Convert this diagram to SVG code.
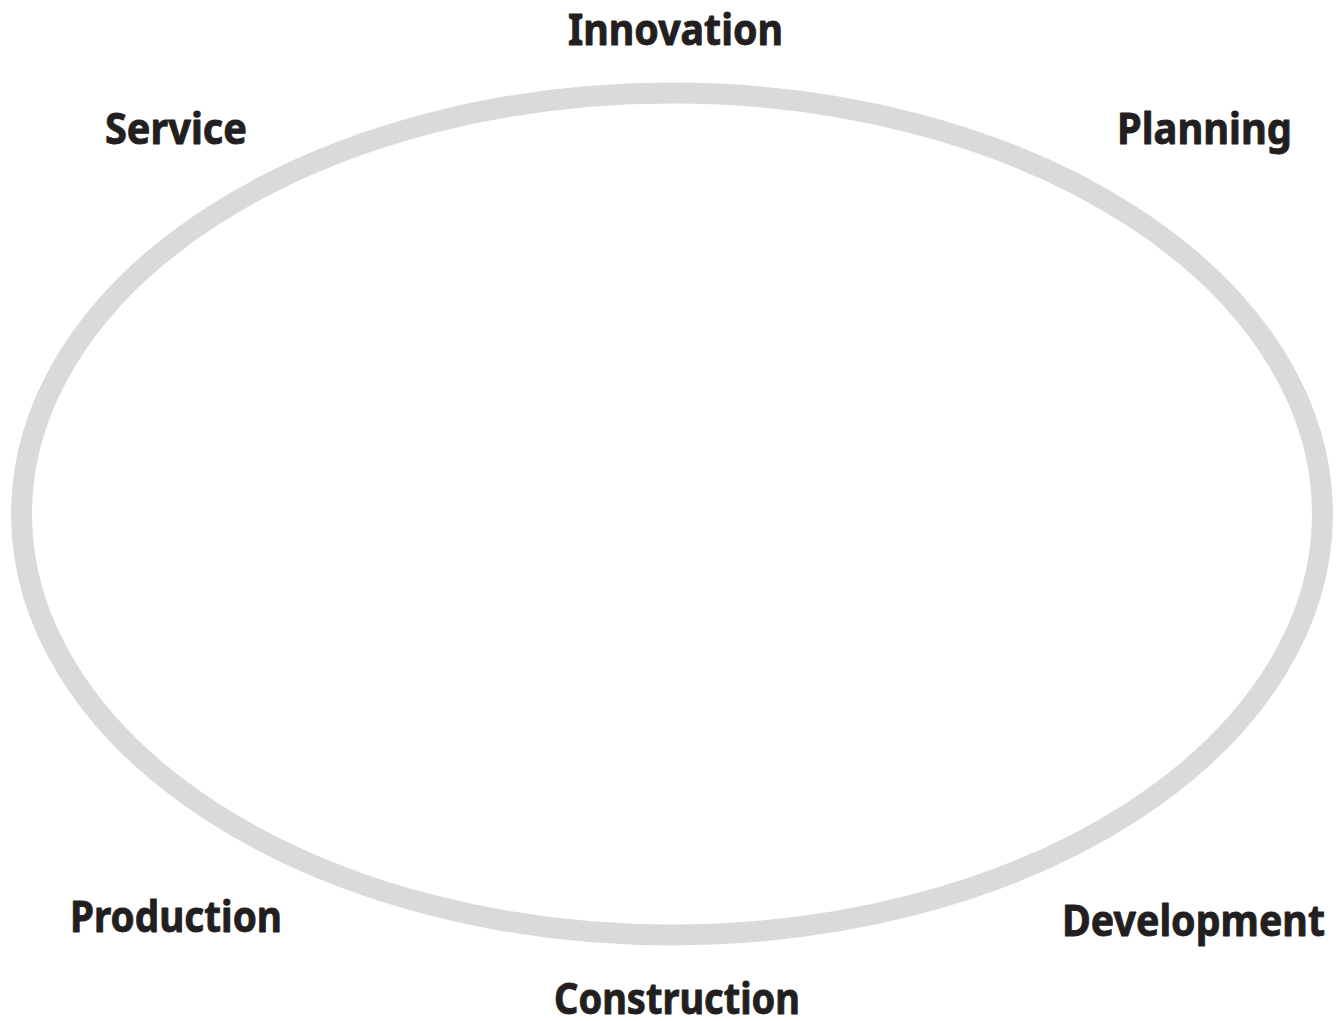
<svg xmlns="http://www.w3.org/2000/svg" width="1340" height="1021" viewBox="0 0 1340 1021">
  <style>
    .ring { fill: none; stroke: #d9dadc; stroke-width: 21; }
    .label { font-family: "Noto Sans", "DejaVu Sans", sans-serif; font-weight: 700; font-size: 43px; fill: #231f20; stroke: #231f20; stroke-width: 0.9; stroke-linejoin: round; }
  </style>
  <rect width="1340" height="1021" fill="#ffffff"/>
  <g id="cycle">
    <ellipse class="ring" cx="672" cy="514" rx="650.5" ry="421"/>
  </g>
  <g id="connectors"/>
  <g id="innovation"><text class="label" x="568" y="45" textLength="215" lengthAdjust="spacingAndGlyphs">Innovation</text></g>
  <g id="service"><text class="label" x="105" y="144" textLength="142" lengthAdjust="spacingAndGlyphs">Service</text></g>
  <g id="planning"><text class="label" x="1117" y="144" textLength="175" lengthAdjust="spacingAndGlyphs">Planning</text></g>
  <g id="production"><text class="label" x="70" y="932" textLength="212" lengthAdjust="spacingAndGlyphs">Production</text></g>
  <g id="development"><text class="label" x="1062" y="936" textLength="263" lengthAdjust="spacingAndGlyphs">Development</text></g>
  <g id="construction"><text class="label" x="554" y="1014" textLength="246" lengthAdjust="spacingAndGlyphs">Construction</text></g>
</svg>
